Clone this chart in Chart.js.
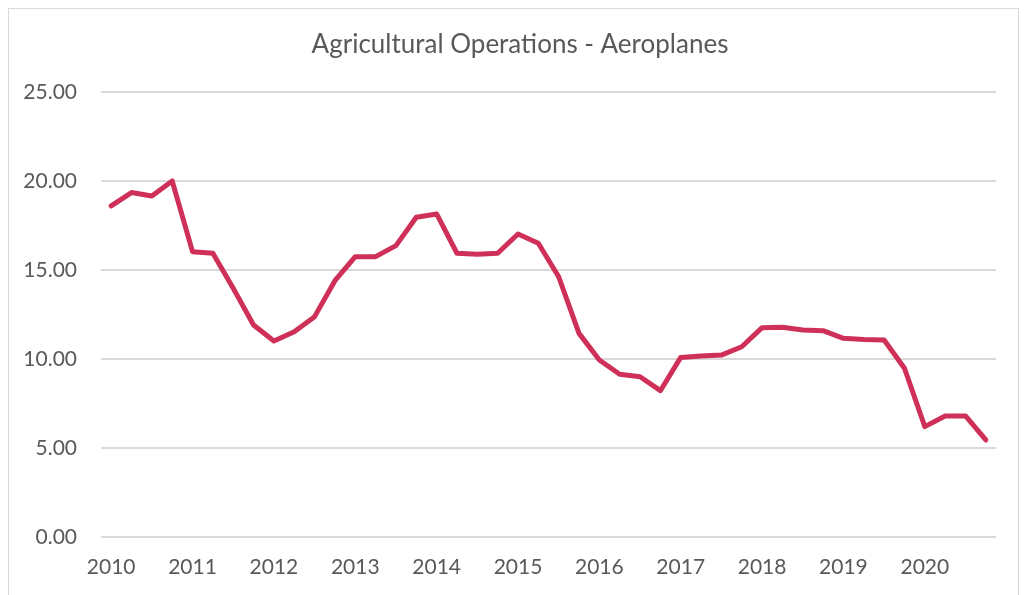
<!DOCTYPE html>
<html>
<head>
<meta charset="utf-8">
<script src="https://cdn.jsdelivr.net/npm/chart.js@4"></script>
<style>
  html, body { margin: 0; padding: 0; background: #fff; }
  #wrap { width: 1026px; height: 595px; position: relative; }
</style>
</head>
<body>
<div id="wrap"><canvas id="chart"></canvas></div>
<script>
// Quarterly data, 2010 Q1 .. 2020 Q4
const years = ['2010', '2011', '2012', '2013', '2014', '2015', '2016', '2017', '2018', '2019', '2020'];
const quarters = ['Q1', 'Q2', 'Q3', 'Q4'];
const values = [
    18.6, 19.35, 19.16, 20.0,
    16.03, 15.94, 13.97, 11.91,
    11.01, 11.53, 12.38, 14.4,
    15.75, 15.75, 16.37, 17.96,
    18.15, 15.94, 15.88, 15.94,
    17.02, 16.5, 14.62, 11.44,
    9.94, 9.14, 9.0, 8.22,
    10.09, 10.17, 10.22, 10.69,
    11.76, 11.78, 11.63, 11.59,
    11.16, 11.1, 11.07, 9.48,
    6.2, 6.8, 6.8, 5.45
];
const yTicks = [0, 5, 10, 15, 20, 25];

const categories = [];
years.forEach(y => quarters.forEach(q => categories.push(y + ' ' + q)));

const textColor = '#595959';
const font = 'Lato, "Open Sans", sans-serif';

// light frame around the chart, like the Excel chart border
const framePlugin = {
    id: 'frame',
    beforeDraw(chart) {
        const c = chart.ctx;
        c.save();
        c.strokeStyle = '#d9d9d9';
        c.lineWidth = 1;
        c.strokeRect(8.5, 8.5, 1010, 600);
        c.restore();
    }
};

new Chart(document.getElementById('chart'), {
    type: 'line',
    data: {
        labels: categories,
        datasets: [{
            data: values,
            borderColor: '#CE3057',
            borderWidth: 5,
            pointRadius: 0,
            tension: 0,
            borderJoinStyle: 'round',
            borderCapStyle: 'round'
        }]
    },
    options: {
        responsive: true,
        maintainAspectRatio: false,
        animation: false,
        layout: { padding: { left: 20, right: 6, top: 0, bottom: 0 } },
        plugins: {
            legend: { display: false },
            tooltip: { enabled: false },
            title: {
                display: true,
                text: 'Agricultural Operations - Aeroplanes',
                color: textColor,
                font: { family: font, size: 26, weight: 'normal' },
                padding: { top: 29, bottom: 31.8 }
            }
        },
        scales: {
            x: {
                offset: true,
                grid: { display: false, drawTicks: false },
                border: { display: false },
                ticks: {
                    autoSkip: false,
                    maxRotation: 0,
                    padding: 18,
                    color: textColor,
                    font: { family: font, size: 21 },
                    callback: (v, i) => i % 4 === 0 ? years[i / 4] : null
                },
                afterFit: s => { s.height = 58; }
            },
            y: {
                min: yTicks[0],
                max: yTicks[yTicks.length - 1],
                afterBuildTicks: s => { s.ticks = yTicks.map(v => ({ value: v })); },
                grid: { color: '#d9d9d9', lineWidth: 2, drawTicks: false },
                border: { display: false },
                ticks: {
                    padding: 24,
                    color: textColor,
                    font: { family: font, size: 21 },
                    callback: v => v.toFixed(2)
                },
                afterFit: s => { s.width = 81; }
            },
            // empty spacer on the right so the plot ends where the reference does
            yRight: {
                position: 'right',
                grid: { display: false, drawTicks: false },
                border: { display: false },
                ticks: { display: false },
                afterFit: s => { s.width = 24; }
            }
        }
    },
    plugins: [framePlugin]
});
</script>
</body>
</html>
